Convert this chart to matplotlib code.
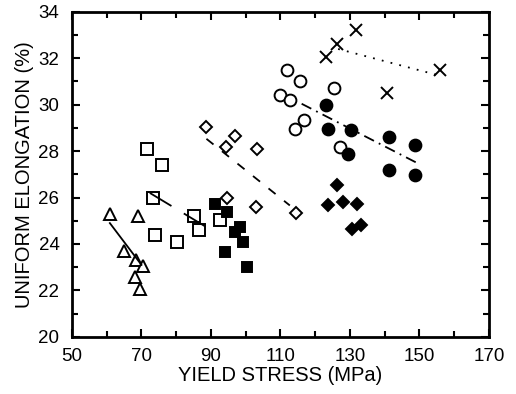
import matplotlib
matplotlib.use("Agg")
import matplotlib.pyplot as plt
from matplotlib.ticker import MultipleLocator

plt.rcParams['font.family'] = ['Liberation Sans', 'DejaVu Sans']

# Yield stress (MPa) vs uniform elongation (%) for each material group
tri_x = [60.9, 68.9, 65.0, 68.4, 70.5, 68.1, 69.6]
tri_y = [25.3, 25.2, 23.7, 23.3, 23.05, 22.6, 22.07]
tri_fit_x = [60.9, 70.0]
tri_fit_y = [24.9, 23.1]

sq_x = [71.6, 75.8, 73.2, 73.9, 80.1, 85.1, 86.6, 92.6]
sq_y = [28.1, 27.4, 26.0, 24.4, 24.1, 25.2, 24.6, 25.05]
sq_fit_x = [72.4, 91.2]
sq_fit_y = [26.2, 24.5]

fsq_x = [91.2, 94.5, 98.3, 96.9, 99.3, 94.0, 100.3]
fsq_y = [25.73, 25.37, 24.73, 24.5, 24.08, 23.65, 23.0]

dia_x = [88.6, 96.9, 94.3, 103.3, 94.7, 103.0, 114.6]
dia_y = [29.04, 28.65, 28.18, 28.1, 25.98, 25.6, 25.33]
dia_fit_x = [88.7, 112.7]
dia_fit_y = [28.53, 25.66]

circ_x = [111.8, 115.6, 125.4, 109.9, 112.7, 116.8, 114.2, 127.1]
circ_y = [31.48, 31.0, 30.7, 30.43, 30.19, 29.32, 28.97, 28.18]

fcirc_x = [123.1, 123.8, 130.2, 129.5, 141.3, 148.7, 141.3, 148.7]
fcirc_y = [30.0, 28.97, 28.9, 27.89, 28.6, 28.28, 27.17, 26.98]
fcirc_fit_x = [116.1, 149.2]
fcirc_fit_y = [30.04, 27.5]

fdia_x = [126.2, 123.6, 127.9, 132.1, 130.5, 133.1]
fdia_y = [26.52, 25.69, 25.83, 25.73, 24.66, 24.83]

cross_x = [131.7, 126.2, 123.1, 155.9, 140.7]
cross_y = [33.2, 32.63, 32.06, 31.51, 30.52]
cross_fit_x = [126.6, 155.4]
cross_fit_y = [32.4, 31.27]

x_ticks = [50, 70, 90, 110, 130, 150, 170]
y_ticks = [20, 22, 24, 26, 28, 30, 32, 34]

fig = plt.figure(figsize=(5.16, 3.94), dpi=100)
ax = fig.add_axes([0.1395, 0.145, 0.808, 0.825])

mk = dict(linestyle='none', markeredgecolor='black', markeredgewidth=1.4)
ax.plot(tri_x, tri_y, marker='^', markersize=8.5, markerfacecolor='white', **mk)
ax.plot(sq_x, sq_y, marker='s', markersize=9, markerfacecolor='white', **mk)
ax.plot(fsq_x, fsq_y, marker='s', markersize=7, markerfacecolor='black', **mk)
ax.plot(dia_x, dia_y, marker='D', markersize=6.2, markerfacecolor='white', **mk)
ax.plot(circ_x, circ_y, marker='o', markersize=8.5, markerfacecolor='white', **mk)
ax.plot(fcirc_x, fcirc_y, marker='o', markersize=8.5, markerfacecolor='black', **mk)
ax.plot(fdia_x, fdia_y, marker='D', markersize=6.5, markerfacecolor='black', **mk)
ax.plot(cross_x, cross_y, marker='x', markersize=8, markerfacecolor='black', **mk)

# Fit lines for each group
ax.plot(tri_fit_x, tri_fit_y, color='black', linewidth=1.3)
ax.plot(sq_fit_x, sq_fit_y, color='black', linewidth=1.3, linestyle=(0, (14, 8)))
ax.plot(dia_fit_x, dia_fit_y, color='black', linewidth=1.3, linestyle=(0, (5, 6)))
ax.plot(fcirc_fit_x, fcirc_fit_y, color='black', linewidth=1.3, linestyle=(0, (6, 3, 1, 3)))
ax.plot(cross_fit_x, cross_fit_y, color='black', linewidth=1.3, linestyle=(0, (1, 4)))

ax.set_xlim(50, 170)
ax.set_ylim(20, 34)
ax.set_xticks(x_ticks)
ax.set_yticks(y_ticks)
ax.xaxis.set_minor_locator(MultipleLocator(10))
ax.yaxis.set_minor_locator(MultipleLocator(1))
ax.tick_params(which='both', direction='in', top=True, right=True, width=1.5, labelsize=13.5)
ax.tick_params(which='major', length=6)
ax.tick_params(which='minor', length=4)
ax.tick_params(axis='x', pad=8)
ax.tick_params(axis='y', pad=9)
for s in ax.spines.values():
    s.set_linewidth(2)

ax.set_xlabel('YIELD STRESS (MPa)', fontsize=14.5, labelpad=1)
ax.set_ylabel('UNIFORM ELONGATION (%)', fontsize=14.5, labelpad=3)

fig.savefig('out.png', dpi=100)
